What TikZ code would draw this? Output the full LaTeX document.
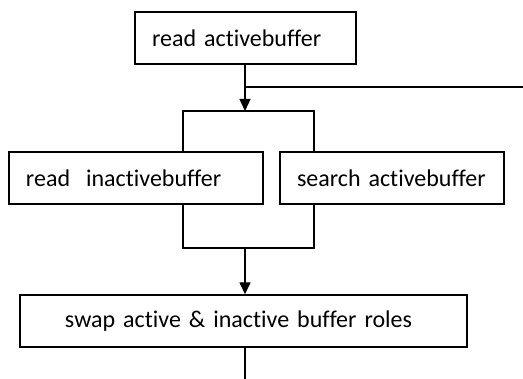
\documentclass[tikz,border=0pt]{standalone}
\usepackage{fontspec}
\setmainfont{Carlito}[WordSpace=0.85,Ligatures=NoCommon]
\usetikzlibrary{arrows.meta}
\begin{document}
\begin{tikzpicture}[x=1pt,y=1pt,
  every path/.style={line width=1.4pt},
  box/.style={draw, line width=1.4pt, rectangle, inner xsep=17pt, inner ysep=0pt,
    minimum height=52pt, align=left, font=\fontsize{24}{28}\selectfont},
  arr/.style={-{Triangle[width=11pt,length=12pt]}},
  ]
\useasboundingbox (0,0) rectangle (523,-379);
\node[box, text width=187pt] (top) at (245.5,-38) {read activebuffer};
\node[box, text width=220pt] (left) at (136,-178) {read\ \ inactivebuffer};
\node[box, text width=190pt] (right) at (392,-178) {search activebuffer};
\node[box, text width=413pt] (bottom) at (243.5,-321) {\hspace*{28pt}swap active \& inactive buffer roles};
\coordinate (f1) at (183,-111);
\coordinate (f2) at (314,-111);
\coordinate (j1) at (183,-248);
\coordinate (j2) at (314,-248);
\coordinate (ej) at (245,-248);
\coordinate (ex) at (523,-87);
\coordinate (fin) at (245,-379);
\draw[arr] (top.south -| ej) -- (ej |- f1);
\draw (ej |- ex) -- (ex);
\draw (f1 |- left.north) -- (f1) -- (f2) -- (f2 |- right.north);
\draw (left.south -| j1) -- (j1) -- (j2) -- (right.south -| j2);
\draw[arr] (ej) -- (ej |- bottom.north);
\draw (bottom.south -| fin) -- (fin);
\end{tikzpicture}
\end{document}
